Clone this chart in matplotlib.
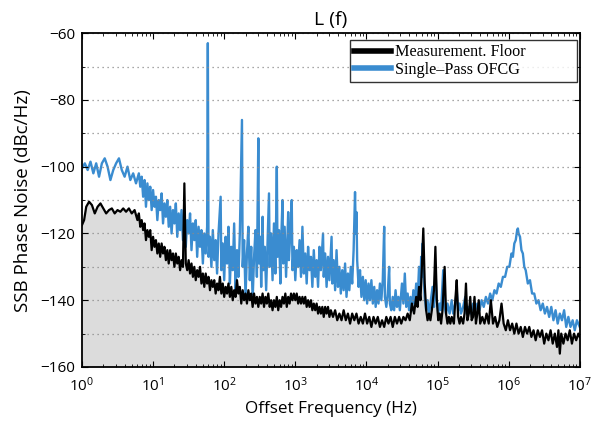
import numpy as np
import matplotlib
matplotlib.use("Agg")
import matplotlib.pyplot as plt
from matplotlib.ticker import FixedLocator, NullFormatter

# ---------------- data ----------------
# log10 of offset frequency (Hz) and SSB phase noise (dBc/Hz)
meas_logf = [0.00, 0.03, 0.06, 0.10, 0.14, 0.18, 0.22, 0.26, 0.30, 0.34, 0.38, 0.42, 0.46, 0.50,
             0.54, 0.58, 0.62, 0.66, 0.70, 0.74, 0.78, 0.80, 0.82, 0.84, 0.86, 0.88, 0.90, 0.92,
             0.94, 0.96, 0.98, 1.00, 1.02, 1.04, 1.06, 1.08, 1.10, 1.12, 1.14, 1.16, 1.18, 1.20,
             1.22, 1.24, 1.26, 1.28, 1.30, 1.32, 1.34, 1.36, 1.38, 1.40, 1.42, 1.44, 1.46, 1.48,
             1.50, 1.52, 1.54, 1.56, 1.58, 1.60, 1.62, 1.64, 1.66, 1.68, 1.70, 1.72, 1.74, 1.76,
             1.78, 1.80, 1.82, 1.84, 1.86, 1.88, 1.90, 1.92, 1.94, 1.96, 1.98, 2.00, 2.02, 2.04,
             2.06, 2.08, 2.10, 2.12, 2.14, 2.16, 2.18, 2.20, 2.22, 2.24, 2.26, 2.28, 2.30, 2.32,
             2.34, 2.36, 2.38, 2.40, 2.42, 2.44, 2.46, 2.48, 2.50, 2.52, 2.54, 2.56, 2.58, 2.60,
             2.62, 2.64, 2.66, 2.68, 2.70, 2.72, 2.74, 2.76, 2.78, 2.80, 2.82, 2.84, 2.86, 2.88,
             2.90, 2.92, 2.94, 2.96, 2.98, 3.00, 3.02, 3.04, 3.06, 3.08, 3.10, 3.12, 3.14, 3.16,
             3.18, 3.20, 3.22, 3.24, 3.26, 3.28, 3.30, 3.32, 3.34, 3.36, 3.38, 3.40, 3.42, 3.44,
             3.46, 3.48, 3.50, 3.53, 3.56, 3.59, 3.62, 3.65, 3.68, 3.71, 3.74, 3.77, 3.80, 3.83,
             3.86, 3.89, 3.92, 3.95, 3.98, 4.01, 4.04, 4.07, 4.10, 4.13, 4.16, 4.19, 4.22, 4.25,
             4.28, 4.31, 4.34, 4.37, 4.40, 4.43, 4.46, 4.49, 4.52, 4.55, 4.58, 4.61, 4.64, 4.67,
             4.70, 4.72, 4.74, 4.76, 4.78, 4.80, 4.82, 4.84, 4.86, 4.88, 4.90, 4.92, 4.95, 4.97,
             4.99, 5.01, 5.03, 5.05, 5.07, 5.10, 5.12, 5.14, 5.16, 5.18, 5.20, 5.23, 5.25, 5.27,
             5.29, 5.31, 5.33, 5.36, 5.38, 5.40, 5.42, 5.44, 5.46, 5.48, 5.50, 5.52, 5.54, 5.56,
             5.58, 5.60, 5.63, 5.66, 5.69, 5.72, 5.75, 5.78, 5.81, 5.84, 5.87, 5.90, 5.93, 5.96,
             5.99, 6.02, 6.05, 6.08, 6.11, 6.14, 6.17, 6.20, 6.23, 6.26, 6.29, 6.32, 6.35, 6.38,
             6.41, 6.44, 6.47, 6.50, 6.53, 6.56, 6.59, 6.62, 6.65, 6.68, 6.70, 6.72, 6.74, 6.77,
             6.80, 6.83, 6.86, 6.89, 6.92, 6.95, 6.98, 7.00]
meas_db = [-117.5, -116, -112, -110.5, -111.5, -114, -112, -111, -112.5, -114, -113, -112.5, -114, -113,
           -113.5, -112.5, -113.5, -112.5, -114, -113, -116, -114, -118, -116, -119, -117, -122, -119,
           -121, -119, -125, -121, -124, -122, -126, -123, -127, -123, -126, -124, -128, -125,
           -129, -125, -128, -126, -130, -126, -129, -127, -131, -128, -130, -105, -129, -131,
           -128, -132, -129, -133, -130, -134, -131, -133, -130, -135, -132, -136, -132, -135,
           -133, -137, -134, -136, -134, -138, -135, -137, -133, -138, -135, -139, -136, -138,
           -135, -139, -136, -140, -137, -139, -134, -138, -136, -141, -137, -140, -138, -141,
           -137, -140, -138, -142, -138, -141, -139, -142, -139, -141, -138, -142, -139, -141,
           -138, -142, -140, -143, -140, -142, -139, -143, -140, -142, -139, -141, -138, -142,
           -139, -141, -138, -140, -138, -140, -138, -141, -139, -141, -139, -141, -139, -142,
           -140, -142, -140, -143, -141, -143, -141, -144, -142, -144, -142, -145, -142, -144,
           -142, -145, -143, -145, -143, -146, -144, -146, -143, -146, -144, -147, -144, -146,
           -144, -147, -145, -147, -144, -147, -145, -148, -145, -147, -145, -148, -146, -148,
           -145, -147, -145, -148, -145, -147, -145, -147, -145, -146, -144, -146, -141, -144,
           -139, -142, -136, -140, -130, -118.5, -135, -143, -146, -144, -146, -143, -137, -124,
           -140, -146, -144, -147, -143, -130, -144, -147, -145, -147, -145, -147, -140, -134,
           -145, -147, -145, -147, -144, -135, -146, -144, -139, -146, -145, -139, -147, -144,
           -140, -147, -145, -147, -144, -147, -140, -147, -145, -148, -146, -141, -147, -149,
           -146, -149, -147, -150, -147, -150, -148, -151, -148, -150, -148, -151, -149, -152,
           -149, -151, -149, -153, -150, -152, -149, -153, -150, -154, -149, -156, -150, -153,
           -150, -152, -149, -153, -150, -152, -150, -151]

ofcg_logf = [0.00, 0.04, 0.08, 0.12, 0.16, 0.20, 0.24, 0.28, 0.32, 0.36, 0.40, 0.44, 0.48, 0.52,
             0.56, 0.60, 0.64, 0.68, 0.72, 0.76, 0.80, 0.82, 0.84, 0.86, 0.88, 0.90, 0.92, 0.94,
             0.96, 0.98, 1.00, 1.02, 1.04, 1.06, 1.08, 1.10, 1.12, 1.14, 1.16, 1.18, 1.20, 1.22,
             1.24, 1.26, 1.28, 1.30, 1.32, 1.34, 1.36, 1.38, 1.40, 1.42, 1.44, 1.46, 1.48, 1.50,
             1.52, 1.54, 1.56, 1.58, 1.60, 1.62, 1.64, 1.66, 1.68, 1.70, 1.72, 1.74, 1.76, 1.77,
             1.78, 1.80, 1.82, 1.84, 1.86, 1.88, 1.90, 1.92, 1.95, 1.96, 1.98, 2.00, 2.02, 2.04,
             2.06, 2.08, 2.10, 2.12, 2.14, 2.16, 2.18, 2.20, 2.22, 2.25, 2.26, 2.28, 2.30, 2.32,
             2.34, 2.36, 2.38, 2.40, 2.42, 2.44, 2.46, 2.48, 2.49, 2.51, 2.52, 2.54, 2.55, 2.57,
             2.59, 2.61, 2.63, 2.64, 2.66, 2.68, 2.70, 2.72, 2.74, 2.75, 2.77, 2.79, 2.80, 2.82,
             2.83, 2.85, 2.87, 2.89, 2.90, 2.91, 2.93, 2.95, 2.96, 2.98, 3.00, 3.02, 3.04, 3.06,
             3.08, 3.10, 3.12, 3.14, 3.16, 3.18, 3.20, 3.22, 3.24, 3.26, 3.28, 3.30, 3.32, 3.34,
             3.36, 3.39, 3.40, 3.42, 3.44, 3.46, 3.48, 3.51, 3.52, 3.54, 3.56, 3.58, 3.60, 3.62,
             3.64, 3.66, 3.68, 3.70, 3.72, 3.74, 3.76, 3.78, 3.80, 3.82, 3.84, 3.85, 3.86, 3.87,
             3.89, 3.91, 3.93, 3.95, 3.97, 3.99, 4.01, 4.03, 4.05, 4.07, 4.09, 4.11, 4.13, 4.15,
             4.17, 4.19, 4.21, 4.23, 4.25, 4.26, 4.28, 4.30, 4.32, 4.33, 4.35, 4.37, 4.39, 4.41,
             4.43, 4.45, 4.47, 4.50, 4.52, 4.54, 4.56, 4.58, 4.60, 4.62, 4.64, 4.66, 4.68, 4.70,
             4.72, 4.74, 4.76, 4.77, 4.78, 4.79, 4.80, 4.82, 4.84, 4.86, 4.88, 4.90, 4.93, 4.95,
             4.97, 4.99, 5.01, 5.03, 5.05, 5.08, 5.10, 5.12, 5.14, 5.17, 5.20, 5.22, 5.25, 5.27,
             5.29, 5.31, 5.33, 5.36, 5.39, 5.41, 5.44, 5.47, 5.50, 5.53, 5.56, 5.59, 5.62, 5.65,
             5.68, 5.71, 5.74, 5.77, 5.80, 5.83, 5.86, 5.89, 5.92, 5.95, 5.98, 6.01, 6.04, 6.06,
             6.08, 6.10, 6.12, 6.13, 6.14, 6.16, 6.18, 6.20, 6.22, 6.24, 6.27, 6.30, 6.33, 6.36,
             6.39, 6.42, 6.45, 6.48, 6.51, 6.54, 6.57, 6.60, 6.63, 6.66, 6.69, 6.72, 6.75, 6.78,
             6.81, 6.84, 6.87, 6.90, 6.93, 6.96, 7.00]
ofcg_db = [-100.5, -99, -101, -98.5, -102, -99, -103, -99, -97.5, -100, -104, -101, -99, -97.5,
           -101, -103, -100, -104, -102, -105, -102, -106, -103, -109, -104, -112, -105, -110,
           -106, -113, -107, -112, -109, -116, -110, -113, -108, -117, -111, -115, -110, -118,
           -112, -120, -113, -117, -111, -121, -114, -119, -113, -122, -115, -124, -116, -120,
           -114, -125, -117, -122, -116, -127, -118, -124, -119, -129, -120, -126, -118, -63,
           -127, -121, -130, -119, -128, -122, -132, -120, -109, -131, -123, -134, -121, -129,
           -118, -135, -124, -131, -117, -137, -125, -133, -120, -86, -130, -122, -139, -126,
           -118, -134, -124, -140, -127, -119, -133, -91.5, -129, -121, -136, -115, -131, -124,
           -137, -122, -108, -130, -120, -134, -117, -132, -100, -127, -119, -135, -123, -110,
           -129, -118, -133, -121, -113.6, -128, -120, -110, -131, -124, -134, -125, -130, -122,
           -133, -118, -132, -126, -135, -124, -131, -127, -136, -125, -133, -128, -136, -124,
           -131, -120, -133, -126, -136, -127, -134, -121, -135, -128, -137, -125, -136, -130,
           -138, -131, -137, -129, -139, -132, -137, -130, -135, -125, -107.6, -120, -113.6, -128,
           -136, -131, -139, -133, -140, -134, -141, -135, -140, -134, -141, -136, -142, -137,
           -141, -135, -140, -134, -118, -139, -142, -138, -130, -141, -143, -139, -143, -137,
           -142, -139, -143, -135, -141, -132, -142, -138, -143, -139, -143, -137, -141, -135,
           -140, -130, -136, -127, -133, -123, -131, -139, -143, -140, -144, -141, -136, -142,
           -131, -140, -144, -141, -143, -131, -142, -144, -141, -144, -140, -144, -141, -137,
           -143, -141, -144, -142, -139, -144, -142, -144, -141, -143, -141, -143, -140, -142,
           -139, -141, -138, -140, -137, -138, -135, -136, -133, -133, -130, -130, -126, -127,
           -123, -122, -119, -118.5, -120, -121, -125, -126, -130, -131, -135, -134, -138, -138,
           -141, -140, -143, -141, -144, -142, -145, -142, -146, -143, -147, -144, -146, -143,
           -148, -145, -148, -146, -149, -146, -148]

x_ticks = [1e0, 1e1, 1e2, 1e3, 1e4, 1e5, 1e6, 1e7]
x_tick_labels = [r'$\mathregular{10^{%d}}$' % k for k in range(8)]
y_ticks = [-160, -140, -120, -100, -80, -60]
y_grid = [-150, -130, -110, -90, -70]

# ---------------- plot ----------------
plt.rcParams['font.family'] = ['Open Sans', 'DejaVu Sans']

fig = plt.figure(figsize=(5.94, 4.25), dpi=100)
ax = fig.add_axes([0.138, 0.1365, 0.838, 0.7855])

meas_f = np.power(10.0, meas_logf)
ofcg_f = np.power(10.0, ofcg_logf)

ax.fill_between(meas_f, meas_db, -160, color='#dcdcdc', lw=0, zorder=1)
ax.plot(meas_f, meas_db, color='black', lw=1.6, zorder=3, label='Measurement. Floor')
ax.plot(ofcg_f, ofcg_db, color='#3a8cd0', lw=1.7, zorder=2, label='Single\u2013Pass OFCG')

ax.set_xscale('log')
ax.set_xlim(1, 1e7)
ax.set_ylim(-160, -60)

ax.xaxis.set_major_locator(FixedLocator(x_ticks))
ax.set_xticklabels(x_tick_labels)
ax.yaxis.set_major_locator(FixedLocator(y_ticks))
ax.yaxis.set_minor_locator(FixedLocator(y_grid))
ax.yaxis.set_minor_formatter(NullFormatter())

ax.grid(True, which='both', axis='y', linestyle=(0, (1, 3)), color='#8a8a8a', lw=0.9)
ax.set_axisbelow(False)

ax.tick_params(axis='both', which='both', direction='in', top=True, right=True, labelsize=11)
ax.tick_params(axis='x', which='major', pad=7, length=4)
ax.tick_params(axis='x', which='minor', length=2)
ax.tick_params(axis='y', which='major', length=4, pad=5)
ax.tick_params(axis='y', which='minor', length=2)
for sp in ax.spines.values():
    sp.set_linewidth(1.3)
    sp.set_zorder(5)

ax.set_xlabel('Offset Frequency (Hz)', fontsize=12.3, labelpad=4)
ax.set_ylabel('SSB Phase Noise (dBc/Hz)', fontsize=13.5, labelpad=6)
ax.set_title('L (f)', fontsize=14, pad=6)

leg = ax.legend(loc='upper left', bbox_to_anchor=(0.538, 0.855, 0.456, 0.124), mode='expand',
                borderaxespad=0, prop={'family': 'Liberation Serif', 'size': 11.6},
                frameon=True, fancybox=False, handlelength=2.3, handletextpad=0.25,
                borderpad=0.25, labelspacing=0.12)
leg.get_frame().set_edgecolor('black')
leg.get_frame().set_linewidth(1.0)
for h in leg.get_lines():
    h.set_linewidth(4)
leg.set_zorder(6)

fig.savefig('out.png', dpi=100)
